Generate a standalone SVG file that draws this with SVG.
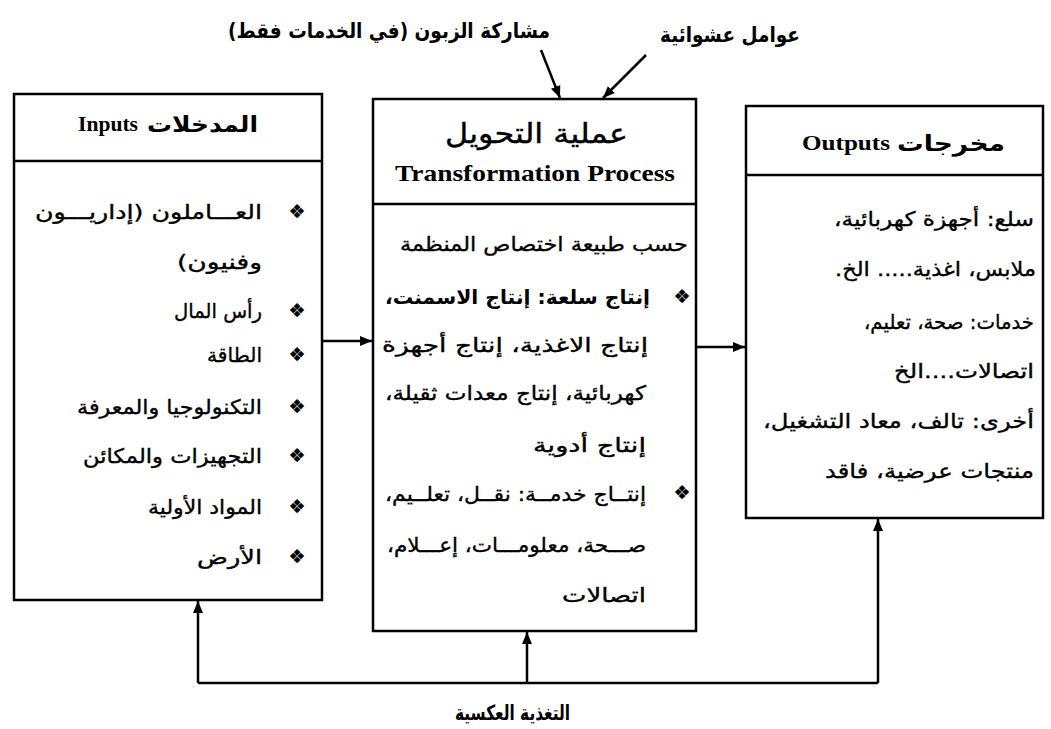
<svg xmlns="http://www.w3.org/2000/svg" width="1051" height="729" viewBox="0 0 1051 729">
<style>
.box{fill:#fff;stroke:#000;stroke-width:2.5}
.ln{stroke:#000;stroke-width:2.5;fill:none}
.ar{font-family:"DejaVu Sans",sans-serif;font-size:20px;direction:rtl;unicode-bidi:embed;text-anchor:start;fill:#000;stroke:#000;stroke-width:0.35}
.hd{font-family:"DejaVu Sans",sans-serif;font-size:22px;font-weight:bold;direction:rtl;unicode-bidi:embed;text-anchor:start;fill:#000}
.en{font-family:"Liberation Serif",serif;font-weight:bold;fill:#000}
.bul{font-family:"DejaVu Sans",sans-serif;font-size:19px;text-anchor:middle;fill:#000;stroke:#000;stroke-width:0.3}
</style>
<defs>
<marker id="ah" markerUnits="userSpaceOnUse" markerWidth="14" markerHeight="12" refX="12" refY="6" orient="auto">
<path d="M0,1 L12,6 L0,11 Z" fill="#000"/>
</marker>
</defs>

<g id="connectors">
<line class="ln" x1="322" y1="341" x2="372" y2="341" marker-end="url(#ah)"/>
<line class="ln" x1="696" y1="347" x2="745" y2="347" marker-end="url(#ah)"/>
<line class="ln" x1="541" y1="50" x2="560" y2="98" marker-end="url(#ah)"/>
<line class="ln" x1="646" y1="55" x2="603" y2="98" marker-end="url(#ah)"/>
<polyline class="ln" points="198,683 878,683"/>
<line class="ln" x1="198" y1="683" x2="198" y2="601" marker-end="url(#ah)"/>
<line class="ln" x1="527" y1="683" x2="527" y2="632" marker-end="url(#ah)"/>
<line class="ln" x1="878" y1="683" x2="878" y2="519" marker-end="url(#ah)"/>
<text class="hd" x="570" y="720" textLength="115" lengthAdjust="spacingAndGlyphs" style="font-size:21px">التغذية العكسية</text>
<text class="hd" x="550" y="38" textLength="322" lengthAdjust="spacingAndGlyphs" style="font-size:21px">مشاركة الزبون (في الخدمات فقط)</text>
<text class="hd" x="800" y="42" textLength="140" lengthAdjust="spacingAndGlyphs" style="font-size:21px">عوامل عشوائية</text>
</g>

<g id="inputs">
<rect class="box" x="14" y="94" width="308" height="506"/>
<line class="ln" x1="14" y1="161" x2="322" y2="161"/>
<text class="en" x="78" y="131" style="font-size:21px" textLength="60" lengthAdjust="spacingAndGlyphs">Inputs</text>
<text class="hd" x="258" y="132" textLength="111" lengthAdjust="spacingAndGlyphs">المدخلات</text>
<text class="bul" x="297" y="218">❖</text>
<text class="ar" x="262" y="219" textLength="227" lengthAdjust="spacingAndGlyphs">العـــاملون (إداريـــون</text>
<text class="ar" x="262" y="269" textLength="85" lengthAdjust="spacingAndGlyphs">وفنيون)</text>
<text class="bul" x="297" y="317">❖</text>
<text class="ar" x="262" y="318" textLength="88" lengthAdjust="spacingAndGlyphs">رأس المال</text>
<text class="bul" x="297" y="361">❖</text>
<text class="ar" x="262" y="362" textLength="55" lengthAdjust="spacingAndGlyphs">الطاقة</text>
<text class="bul" x="297" y="413">❖</text>
<text class="ar" x="262" y="414" textLength="185" lengthAdjust="spacingAndGlyphs">التكنولوجيا والمعرفة</text>
<text class="bul" x="297" y="462">❖</text>
<text class="ar" x="262" y="463" textLength="179" lengthAdjust="spacingAndGlyphs">التجهيزات والمكائن</text>
<text class="bul" x="297" y="513">❖</text>
<text class="ar" x="262" y="514" textLength="114" lengthAdjust="spacingAndGlyphs">المواد الأولية</text>
<text class="bul" x="297" y="563">❖</text>
<text class="ar" x="262" y="564" textLength="65" lengthAdjust="spacingAndGlyphs">الأرض</text>
</g>

<g id="process">
<rect class="box" x="373" y="99" width="323" height="532"/>
<line class="ln" x1="373" y1="204" x2="696" y2="204"/>
<text class="hd" x="628" y="143" textLength="183" lengthAdjust="spacingAndGlyphs" style="font-size:28px;font-weight:normal;stroke:#000;stroke-width:0.4">عملية التحويل</text>
<text class="en" x="395" y="181" style="font-size:24px" textLength="280" lengthAdjust="spacingAndGlyphs">Transformation Process</text>
<text class="ar" x="688" y="251" textLength="288" lengthAdjust="spacingAndGlyphs">حسب طبيعة اختصاص المنظمة</text>
<text class="bul" x="682" y="303">❖</text>
<text class="ar" x="650" y="304" textLength="265" lengthAdjust="spacingAndGlyphs" style="font-weight:bold;stroke-width:0">إنتاج سلعة: إنتاج الاسمنت،</text>
<text class="ar" x="648" y="352" textLength="266" lengthAdjust="spacingAndGlyphs">إنتاج الاغذية، إنتاج أجهزة</text>
<text class="ar" x="646" y="400" textLength="261" lengthAdjust="spacingAndGlyphs">كهربائية، إنتاج معدات ثقيلة،</text>
<text class="ar" x="646" y="452" textLength="113" lengthAdjust="spacingAndGlyphs">إنتاج أدوية</text>
<text class="bul" x="682" y="499">❖</text>
<text class="ar" x="646" y="501" textLength="261" lengthAdjust="spacingAndGlyphs">إنتــاج خدمــة: نقــل، تعلــيم،</text>
<text class="ar" x="646" y="552" textLength="259" lengthAdjust="spacingAndGlyphs">صـــحة، معلومـــات، إعـــلام،</text>
<text class="ar" x="646" y="602" textLength="84" lengthAdjust="spacingAndGlyphs">اتصالات</text>
</g>

<g id="outputs">
<rect class="box" x="746" y="106" width="297" height="412"/>
<line class="ln" x1="746" y1="175" x2="1043" y2="175"/>
<text class="en" x="802" y="150" style="font-size:22px" textLength="88" lengthAdjust="spacingAndGlyphs">Outputs</text>
<text class="hd" x="1005" y="151" textLength="108" lengthAdjust="spacingAndGlyphs">مخرجات</text>
<text class="ar" x="1034" y="226" textLength="200" lengthAdjust="spacingAndGlyphs">سلع: أجهزة كهربائية،</text>
<text class="ar" x="1036" y="276" textLength="201" lengthAdjust="spacingAndGlyphs">ملابس، اغذية..... الخ.</text>
<text class="ar" x="1034" y="329" textLength="170" lengthAdjust="spacingAndGlyphs">خدمات: صحة، تعليم،</text>
<text class="ar" x="1034" y="378" textLength="140" lengthAdjust="spacingAndGlyphs">اتصالات....الخ</text>
<text class="ar" x="1034" y="428" textLength="271" lengthAdjust="spacingAndGlyphs">أخرى: تالف، معاد التشغيل،</text>
<text class="ar" x="1034" y="478" textLength="209" lengthAdjust="spacingAndGlyphs">منتجات عرضية،  فاقد</text>
</g>
</svg>
